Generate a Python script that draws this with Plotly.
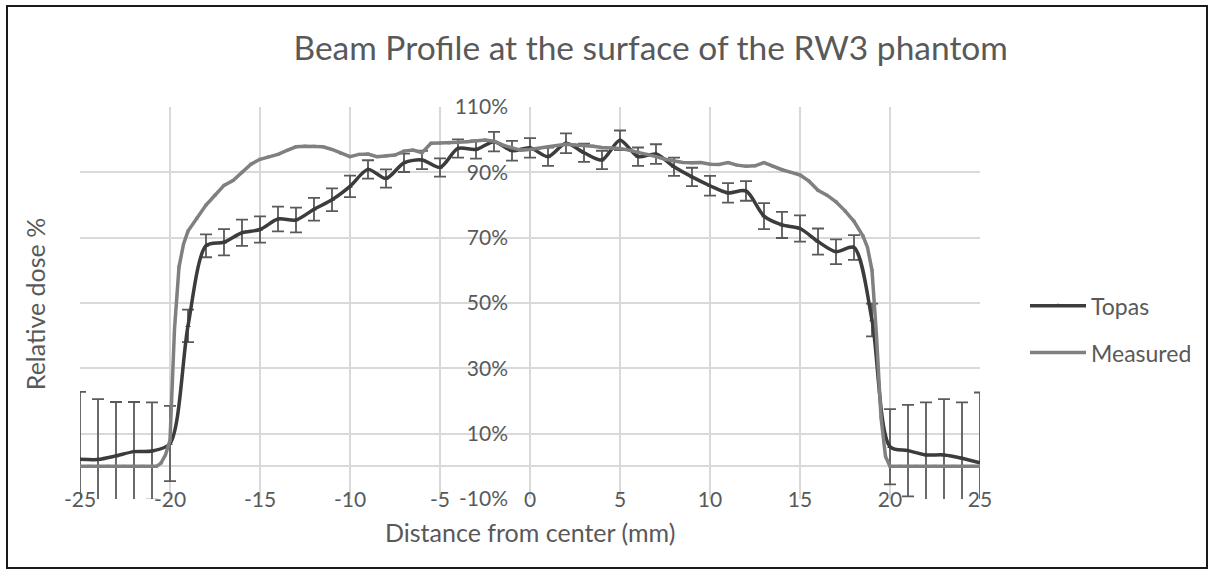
import plotly.graph_objects as go

# ---------------- data ----------------
topas_x = list(range(-25, 26))
topas_y = [2.2, 2.1, 3.2, 4.5, 4.7, 7.0, 43.0, 67.5, 68.6, 71.5,
           72.5, 75.7, 75.4, 78.7, 81.6, 85.7, 90.9, 88.1, 92.9, 93.8,
           91.5, 97.3, 97.0, 99.4, 96.6, 97.5, 94.8, 98.9, 96.0, 93.8,
           99.8, 94.8, 95.6, 91.7, 88.6, 85.9, 83.7, 84.3, 76.6, 73.9,
           72.8, 68.8, 65.7, 67.0, 44.8, 6.0, 4.8, 3.5, 3.5, 2.5, 1.1]
topas_err = [20.6, 18.5, 16.5, 15.2, 14.9, 11.5, 5.0, 3.5, 4.0, 4.0,
             4.0, 3.8, 3.8, 3.5, 3.5, 3.3, 2.8, 2.8, 2.8, 2.8,
             2.8, 2.8, 2.8, 3.0, 3.0, 3.0, 2.8, 3.0, 2.8, 2.8,
             3.0, 2.8, 3.0, 2.8, 2.8, 3.0, 3.0, 3.0, 4.0, 4.0,
             4.0, 4.0, 3.8, 3.8, 5.0, 11.5, 14.0, 16.1, 17.1, 17.1, 21.5]

meas_x = [-25, -24.5, -24, -23.5, -23, -22.5, -22, -21.5, -21, -20.75, -20.5,
          -20.25, -20, -19.75, -19.5, -19.25, -19, -18.5, -18, -17.5, -17,
          -16.5, -16, -15.5, -15, -14.5, -14, -13.5, -13, -12.5, -12,
          -11.5, -11, -10.5, -10, -9.5, -9, -8.5, -8, -7.5, -7,
          -6.5, -6, -5.5, -5, -4.5, -4, -3.5, -3, -2.5, -2,
          -1.5, -1, -0.5, 0, 0.5, 1, 1.5, 2, 2.5, 3,
          3.5, 4, 4.5, 5, 5.5, 6, 6.5, 7, 7.5, 8,
          8.5, 9, 9.5, 10, 10.5, 11, 11.5, 12, 12.5, 13,
          13.5, 14, 14.5, 15, 15.5, 16, 16.5, 17, 17.5, 18,
          18.5, 18.75, 19, 19.25, 19.5, 19.75, 20, 20.5, 21, 21.5,
          22, 22.5, 23, 23.5, 24, 24.5, 25]
meas_y = [0, 0, 0, 0, 0, 0, 0, 0, 0, 0, 1.0,
          3.5, 8.0, 42.0, 61.0, 68.0, 72.0, 76.0, 80.0, 83.0, 86.0,
          87.5, 90.0, 92.5, 94.0, 94.8, 95.5, 96.7, 97.8, 98.0, 98.0,
          97.8, 97.0, 95.8, 94.8, 95.5, 95.6, 94.8, 95.0, 95.3, 96.5,
          96.8, 96.0, 98.9, 99.0, 99.0, 99.2, 99.4, 99.7, 99.9, 99.5,
          98.3, 97.5, 96.8, 97.0, 97.3, 97.8, 98.2, 98.6, 98.4, 98.3,
          98.0, 97.6, 97.4, 97.3, 96.8, 96.2, 95.5, 94.8, 94.0, 93.5,
          93.0, 92.9, 93.0, 92.5, 92.4, 93.0, 92.2, 91.9, 92.0, 93.0,
          91.8, 90.8, 90.0, 89.2, 87.3, 84.5, 83.0, 81.0, 78.2, 75.0,
          70.5, 67.0, 60.0, 40.0, 15.0, 3.0, 0, 0, 0, 0,
          0, 0, 0, 0, 0, 0, 0]

x_ticks = [-25, -20, -15, -10, -5, 0, 5, 10, 15, 20, 25]
x_tick_text = [str(v) for v in x_ticks]
y_ticks = [-10, 10, 30, 50, 70, 90, 110]
y_tick_text = [f"{v}%" for v in y_ticks]

TXT = "#595959"
GRID = "#d9d9d9"
FONT = "Lato, Open Sans, sans-serif"

fig = go.Figure()

fig.add_trace(go.Scatter(
    x=topas_x, y=topas_y, name="Topas", mode="lines+markers",
    line=dict(color="#3c3c3c", width=3.5, shape="spline", smoothing=0.8),
    marker=dict(symbol="triangle-up", size=5, color="#3c3c3c"),
    error_y=dict(type="data", array=topas_err, visible=True,
                 color="#5a5a5a", thickness=1.8, width=6),
    legendgroup="a",
))
fig.add_trace(go.Scatter(
    x=meas_x, y=meas_y, name="Measured", mode="lines+markers",
    line=dict(color="#808080", width=3.5),
    marker=dict(symbol="square", size=3, color="#808080"),
    legendgroup="b",
))

fig.update_layout(
    width=1214, height=575,
    margin=dict(l=80, r=234, t=107, b=76),
    paper_bgcolor="white", plot_bgcolor="white",
    font=dict(family=FONT, color=TXT, size=21),
    title=dict(text="Beam Profile at the surface of the RW3 phantom",
               x=0.536, xref="container", xanchor="center",
               y=1 - 48 / 575, yref="container", yanchor="middle",
               font=dict(size=33.5, color=TXT, family=FONT)),
    showlegend=True,
    legend=dict(x=1.05, xanchor="left", y=0.548, yanchor="top",
                font=dict(size=23, color=TXT), tracegroupgap=14,
                itemwidth=56, bgcolor="rgba(0,0,0,0)"),
    xaxis=dict(range=[-25, 25], tickvals=x_ticks, ticktext=x_tick_text,
               showgrid=True,
               gridcolor=GRID, gridwidth=1.5, zeroline=True,
               zerolinecolor=GRID, zerolinewidth=1.5, showline=False,
               ticks="", tickfont=dict(size=21, color=TXT),
               ticklabelstandoff=-14),
    yaxis=dict(range=[-10, 110], tickvals=y_ticks, ticktext=y_tick_text,
               showgrid=True, gridcolor=GRID, gridwidth=1.5,
               zeroline=True, zerolinecolor=GRID, zerolinewidth=1.5,
               showline=False, ticks="", anchor="free", position=0.5,
               tickfont=dict(size=21, color=TXT), ticklabelstandoff=22),
    annotations=[
        dict(text="Distance from center (mm)", x=0.5, y=-0.084,
             xref="paper", yref="paper", showarrow=False,
             xanchor="center", yanchor="middle",
             font=dict(size=25, color=TXT)),
        dict(text="Relative dose %", x=-0.05, y=0.497,
             xref="paper", yref="paper", showarrow=False, textangle=-90,
             xanchor="center", yanchor="middle",
             font=dict(size=25, color=TXT)),
    ],
    shapes=[dict(type="rect", xref="paper", yref="paper",
                 x0=(7 - 80) / 900, x1=(1207 - 80) / 900,
                 y0=(499 - 568) / 392, y1=(499 - 6) / 392,
                 line=dict(color="#1a1a1a", width=2), layer="below")],
)

fig.write_html("out.html")
